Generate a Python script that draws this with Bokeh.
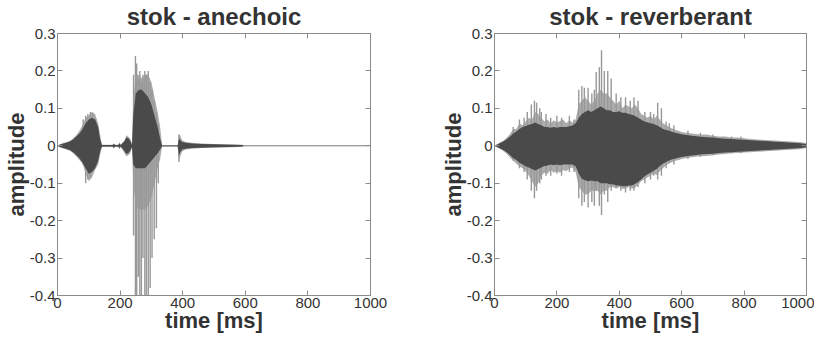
from bokeh.plotting import figure
from bokeh.layouts import row
from bokeh.models import FixedTicker, LinearAxis, Range1d, CustomLabelingPolicy
from bokeh.embed import file_html
from bokeh.resources import INLINE

# ---------------- data ----------------
x_ticks = [0, 200, 400, 600, 800, 1000]
x_labels = ["0", "200", "400", "600", "800", "1000"]
y_ticks = [-0.4, -0.3, -0.2, -0.1, 0, 0.1, 0.2, 0.3]
y_labels = ["-0.4", "-0.3", "-0.2", "-0.1", "0", "0.1", "0.2", "0.3"]

titles = ["stok - anechoic", "stok - reverberant"]

# anechoic: envelope (outer = light peaks, core = dark body), time in ms
an_t = [0, 10, 20, 30, 40, 50, 60, 70, 80, 90,
        100, 110, 120, 130, 136, 142,
        176, 180, 184, 194, 198, 202,
        214, 220, 226, 232, 238, 242,
        250, 260, 270, 280, 290, 300, 310, 320, 328, 334,
        384, 388, 392, 398, 410, 430, 460, 500, 550, 590,
        596, 1000]
an_oh = [0, .005, .008, .010, .013, .020, .028, .040, .055, .075,
         .080, .090, .085, .060, .030, .003,
         .003, .007, .003, .003, .010, .003,
         .015, .028, .025, .020, .005, .120,
         .190, .190, .180, .190, .190, .170, .130, .090, .050, .002,
         .002, .030, .028, .015, .010, .008, .006, .005, .004, .003,
         0, 0]
an_ol = [0, -.005, -.008, -.010, -.013, -.020, -.028, -.038, -.048, -.075,
         -.095, -.085, -.065, -.050, -.025, -.003,
         -.003, -.007, -.003, -.003, -.010, -.003,
         -.020, -.028, -.025, -.020, -.005, -.100,
         -.160, -.170, -.170, -.170, -.160, -.140, -.100, -.060, -.035, -.002,
         -.002, -.040, -.030, -.015, -.010, -.008, -.006, -.005, -.004, -.003,
         0, 0]
an_ch = [0, .004, .006, .009, .012, .017, .025, .033, .045, .060,
         .070, .075, .070, .050, .018, .002,
         .002, .005, .002, .002, .006, .002,
         .012, .022, .020, .014, .003, .080,
         .140, .150, .150, .140, .130, .110, .080, .050, .020, .001,
         .001, .018, .016, .010, .008, .006, .005, .004, .003, .002,
         0, 0]
an_cl = [0, -.004, -.006, -.009, -.012, -.017, -.025, -.033, -.045, -.060,
         -.075, -.070, -.060, -.040, -.015, -.002,
         -.002, -.005, -.002, -.002, -.006, -.002,
         -.014, -.022, -.020, -.014, -.003, -.050,
         -.060, -.060, -.060, -.060, -.050, -.040, -.030, -.020, -.010, -.001,
         -.001, -.025, -.018, -.010, -.008, -.006, -.005, -.004, -.003, -.002,
         0, 0]
# anechoic: single prominent peaks (pitch pulses)
an_st = [82, 90, 97, 105, 112, 120,
         243, 249, 253, 258, 263, 268, 273, 279, 284, 290, 296, 302, 309, 316, 322,
         388]
an_sh = [0.07, 0.08, 0.085, 0.09, 0.088, 0.075,
         0.19, 0.24, 0.22, 0.18, 0.20, 0.17, 0.19, 0.20, 0.19, 0.20, 0.17, 0.15, 0.12, 0.09, 0.06,
         0.03]
an_sl = [-0.05, -0.10, -0.09, -0.085, -0.07, -0.06,
         -0.24, -0.40, -0.42, -0.35, -0.42, -0.40, -0.30, -0.42, -0.40, -0.42, -0.38, -0.30, -0.25, -0.22, -0.10,
         -0.043]

# reverberant
rv_t = [0, 10, 20, 30, 40, 50, 60, 70, 80, 90,
        100, 110, 120, 130, 140, 150, 160, 170, 180, 190,
        200, 210, 220, 230, 240, 250, 260, 270, 280, 290,
        300, 310, 320, 330, 340, 350, 360, 370, 380, 390,
        400, 410, 420, 430, 440, 450, 460, 470, 480, 490,
        500, 510, 520, 530, 540, 550, 560, 570, 580, 590,
        600, 620, 640, 660, 680, 700, 720, 740, 760, 780,
        800, 820, 840, 860, 880, 900, 920, 940, 960, 980, 1000]
rv_oh = [0, .005, .010, .015, .022, .032, .045, .045, .060, .055,
         .065, .075, .070, .090, .085, .075, .065, .070, .060, .068,
         .062, .066, .070, .060, .068, .062, .070, .110, .120, .130,
         .120, .110, .120, .140, .150, .140, .140, .130, .120, .110,
         .120, .100, .110, .105, .100, .110, .100, .085, .080, .075,
         .080, .070, .080, .070, .060, .055, .050, .046, .042, .040,
         .037, .034, .032, .030, .030, .027, .025, .025, .022, .022,
         .020, .018, .017, .016, .015, .014, .013, .012, .011, .010, .007]
rv_ol = [0, -.005, -.010, -.015, -.022, -.032, -.040, -.048, -.055, -.060,
         -.068, -.080, -.095, -.110, -.100, -.080, -.072, -.075, -.065, -.072,
         -.068, -.072, -.065, -.068, -.060, -.058, -.070, -.110, -.120, -.130,
         -.130, -.120, -.120, -.120, -.130, -.120, -.120, -.110, -.110, -.115,
         -.110, -.115, -.115, -.110, -.115, -.112, -.105, -.095, -.090, -.085,
         -.080, -.075, -.078, -.068, -.060, -.052, -.047, -.043, -.040, -.038,
         -.035, -.032, -.030, -.028, -.027, -.025, -.023, -.022, -.020, -.019,
         -.018, -.017, -.016, -.015, -.014, -.013, -.012, -.011, -.010, -.009, -.006]
rv_ch = [0, .004, .008, .012, .018, .025, .033, .038, .045, .050,
         .053, .056, .058, .062, .058, .055, .050, .050, .048, .050,
         .048, .050, .050, .050, .052, .054, .060, .075, .085, .090,
         .095, .090, .095, .100, .105, .100, .095, .095, .090, .090,
         .092, .088, .088, .085, .083, .080, .075, .070, .065, .063,
         .060, .058, .055, .050, .045, .042, .040, .037, .035, .033,
         .031, .028, .026, .024, .023, .022, .020, .019, .018, .017,
         .016, .015, .014, .013, .012, .011, .010, .009, .008, .007, .005]
rv_cl = [0, -.004, -.008, -.012, -.018, -.025, -.033, -.038, -.045, -.050,
         -.055, -.058, -.062, -.066, -.062, -.058, -.054, -.053, -.050, -.052,
         -.050, -.052, -.050, -.050, -.050, -.050, -.055, -.075, -.088, -.092,
         -.095, -.093, -.095, -.095, -.100, -.100, -.100, -.103, -.103, -.106,
         -.106, -.108, -.108, -.106, -.106, -.102, -.097, -.090, -.082, -.077,
         -.072, -.067, -.062, -.054, -.048, -.043, -.039, -.036, -.034, -.032,
         -.030, -.027, -.025, -.023, -.022, -.021, -.019, -.018, -.017, -.016,
         -.015, -.014, -.013, -.012, -.011, -.010, -.009, -.008, -.007, -.006, -.004]
rv_st = [60, 80, 95, 105, 118, 128, 135, 145, 150, 165,
         180, 200, 215, 240, 255, 270, 280, 288, 300, 312,
         320, 326, 336, 343, 352, 363, 374, 390, 405, 420,
         435, 447, 460, 482, 500, 510, 523, 535, 550, 560,
         575, 620, 660, 700, 760, 790]
rv_sh = [0.05, 0.07, 0.075, 0.09, 0.11, 0.12, 0.115, 0.10, 0.09, 0.085,
         0.075, 0.08, 0.075, 0.08, 0.07, 0.15, 0.16, 0.155, 0.155, 0.14,
         0.15, 0.197, 0.21, 0.255, 0.20, 0.20, 0.18, 0.14, 0.13, 0.13,
         0.12, 0.13, 0.12, 0.09, 0.09, 0.085, 0.115, 0.10, 0.065, 0.06,
         0.055, 0.04, 0.035, 0.03, 0.025, 0.025]
rv_sl = [-0.04, -0.06, -0.07, -0.09, -0.12, -0.14, -0.12, -0.10, -0.09, -0.08,
         -0.08, -0.075, -0.08, -0.07, -0.07, -0.14, -0.16, -0.15, -0.165, -0.15,
         -0.16, -0.12, -0.16, -0.185, -0.13, -0.15, -0.12, -0.11, -0.12, -0.125,
         -0.12, -0.12, -0.11, -0.10, -0.09, -0.08, -0.09, -0.08, -0.06, -0.045,
         -0.05, -0.035, -0.03, -0.025, -0.02, -0.02]

# ---------------- styling ----------------
FONT = "Liberation Sans"
AXIS_C = "#8a8a8a"
TEXT_C = "#333333"
LIGHT = "#acacac"
SPIKE = "#989898"
DARK = "#4a4a4a"

HIDE_ALL = CustomLabelingPolicy(code="""
    const all = [...indices];
    for (const i of all) indices.unset(i);
    return indices;
""")


def style_axis(ax, ticks, labels, show_labels, label=None, label_standoff=0):
    ax.ticker = FixedTicker(ticks=ticks)
    ax.axis_line_color = AXIS_C
    ax.major_tick_line_color = AXIS_C
    ax.major_tick_in = 5
    ax.major_tick_out = 0
    ax.minor_tick_line_color = None
    if show_labels:
        ax.major_label_overrides = {k: v for k, v in zip(ticks, labels)}
        ax.major_label_text_font = FONT
        ax.major_label_text_font_size = "15px"
        ax.major_label_text_color = TEXT_C
        ax.major_label_standoff = 2
        if label:
            ax.axis_label = label
            ax.axis_label_text_font = FONT
            ax.axis_label_text_font_size = "22px"
            ax.axis_label_text_font_style = "bold"
            ax.axis_label_text_color = TEXT_C
            ax.axis_label_standoff = label_standoff
    else:
        ax.major_label_policy = HIDE_ALL
        ax.major_label_text_font_size = "1px"
        ax.major_label_standoff = 0


def panel(title, t, oh, ol, ch, cl, st, sh, sl, frame_w, b_left, b_right):
    p = figure(frame_width=frame_w, frame_height=262, title=title,
               x_range=Range1d(0, 1000), y_range=Range1d(-0.4, 0.3),
               output_backend="svg", toolbar_location=None,
               min_border_left=b_left, min_border_right=b_right,
               min_border_top=27, min_border_bottom=38)
    p.grid.visible = False
    p.outline_line_color = AXIS_C
    p.background_fill_color = "white"
    p.border_fill_color = "white"
    p.title.text_font = FONT
    p.title.text_font_size = "24px"
    p.title.text_font_style = "bold"
    p.title.text_color = TEXT_C
    p.title.align = "center"
    p.title.standoff = 0

    center = [(a + b) / 2 for a, b in zip(oh, ol)]
    p.line(x=t, y=center, line_color="#7a7a7a", line_width=1)
    p.varea(x=t, y1=ol, y2=oh, fill_color=LIGHT)
    p.segment(x0=st, y0=sl, x1=st, y1=sh, line_color=SPIKE, line_width=1.4)
    p.varea(x=t, y1=cl, y2=ch, fill_color=DARK)

    style_axis(p.xaxis[0], x_ticks, x_labels, True, "time [ms]", label_standoff=-3)
    style_axis(p.yaxis[0], y_ticks, y_labels, True, "amplitude", label_standoff=-2)
    top = LinearAxis()
    right = LinearAxis()
    style_axis(top, x_ticks, x_labels, False)
    style_axis(right, y_ticks, y_labels, False)
    p.add_layout(top, "above")
    p.add_layout(right, "right")
    return p


p1 = panel(titles[0], an_t, an_oh, an_ol, an_ch, an_cl, an_st, an_sh, an_sl, 313, 54, 67)
p2 = panel(titles[1], rv_t, rv_oh, rv_ol, rv_ch, rv_cl, rv_st, rv_sh, rv_sl, 312, 54, 8)

layout = row(p1, p2)
open("out.html", "w").write(file_html(layout, INLINE))
